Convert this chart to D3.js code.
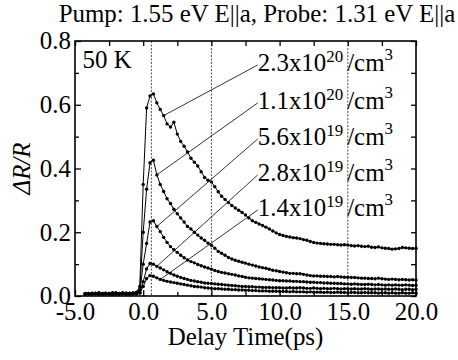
<!DOCTYPE html>
<html>
<head>
<meta charset="utf-8">
<script src="https://cdn.jsdelivr.net/npm/d3@7"></script>
</head>
<body style="margin:0">
<script>
// delay time (ps)
const delays = [
  -4.25, -4, -3.75, -3.5, -3.25, -3, -2.75, -2.5, -2.25, -2, -1.75, -1.5, -1.25, -1, -0.75, -0.5, -0.25,
  0, 0.25, 0.5, 0.75, 1, 1.25, 1.5, 1.75, 2, 2.25,
  2.5, 2.75, 3, 3.25, 3.5, 3.75, 4, 4.25, 4.5, 4.75,
  5, 5.25, 5.5, 5.75, 6, 6.25, 6.5, 6.75, 7, 7.25,
  7.5, 7.75, 8, 8.25, 8.5, 8.75, 9, 9.25, 9.5, 9.75,
  10, 10.25, 10.5, 10.75, 11, 11.25, 11.5, 11.75, 12, 12.25,
  12.5, 12.75, 13, 13.25, 13.5, 13.75, 14, 14.25, 14.5, 14.75,
  15, 15.25, 15.5, 15.75, 16, 16.25, 16.5, 16.75, 17, 17.25,
  17.5, 17.75, 18, 18.25, 18.5, 18.75, 19, 19.25, 19.5, 19.75,
  20
];

// dR/R for each excitation density
const s23e20 = [
  0.008, 0.007, 0.009, 0.008, 0.010, 0.007, 0.009, 0.008, 0.010, 0.009, 0.008, 0.010, 0.009, 0.008, 0.010, 0.012, 0.030,
  0.350, 0.590, 0.628, 0.634, 0.606, 0.585, 0.566, 0.540, 0.530, 0.545,
  0.508, 0.485, 0.470, 0.452, 0.432, 0.420, 0.408, 0.390, 0.372, 0.363,
  0.358, 0.343, 0.327, 0.313, 0.303, 0.293, 0.284, 0.276, 0.269, 0.262,
  0.254, 0.245, 0.236, 0.231, 0.226, 0.221, 0.216, 0.210, 0.204, 0.198,
  0.193, 0.190, 0.187, 0.185, 0.183, 0.182, 0.180, 0.177, 0.175, 0.171,
  0.168, 0.166, 0.165, 0.164, 0.163, 0.162, 0.162, 0.161, 0.160, 0.161,
  0.160, 0.158, 0.157, 0.158, 0.156, 0.155, 0.156, 0.153, 0.152, 0.154,
  0.151, 0.150, 0.149, 0.147, 0.148, 0.149, 0.152, 0.151, 0.150, 0.149,
  0.150
];
const s11e20 = [
  0.007, 0.008, 0.006, 0.009, 0.007, 0.008, 0.009, 0.007, 0.008, 0.010, 0.007, 0.009, 0.008, 0.009, 0.008, 0.010, 0.018,
  0.200, 0.335, 0.418, 0.426, 0.380, 0.350, 0.328, 0.305, 0.290, 0.272,
  0.258, 0.245, 0.232, 0.218, 0.210, 0.200, 0.191, 0.182, 0.175, 0.166,
  0.159, 0.150, 0.140, 0.134, 0.128, 0.121, 0.116, 0.112, 0.109, 0.106,
  0.103, 0.100, 0.097, 0.094, 0.091, 0.089, 0.087, 0.084, 0.081, 0.079,
  0.077, 0.075, 0.073, 0.071, 0.071, 0.070, 0.070, 0.068, 0.066, 0.064,
  0.063, 0.063, 0.062, 0.062, 0.061, 0.061, 0.060, 0.061, 0.060, 0.059,
  0.059, 0.058, 0.058, 0.057, 0.056, 0.056, 0.055, 0.055, 0.054, 0.056,
  0.054, 0.053, 0.052, 0.053, 0.052, 0.051, 0.052, 0.051, 0.050, 0.051,
  0.050
];
const s56e19 = [
  0.006, 0.008, 0.007, 0.008, 0.009, 0.006, 0.008, 0.007, 0.009, 0.008, 0.007, 0.008, 0.009, 0.007, 0.008, 0.009, 0.012,
  0.100, 0.165, 0.232, 0.236, 0.218, 0.202, 0.184, 0.168, 0.155, 0.145,
  0.137, 0.128, 0.120, 0.113, 0.108, 0.104, 0.099, 0.095, 0.091, 0.088,
  0.084, 0.080, 0.077, 0.074, 0.072, 0.070, 0.068, 0.066, 0.063, 0.061,
  0.059, 0.057, 0.056, 0.055, 0.054, 0.053, 0.052, 0.051, 0.050, 0.049,
  0.048, 0.048, 0.047, 0.047, 0.046, 0.046, 0.045, 0.045, 0.044, 0.043,
  0.043, 0.042, 0.042, 0.041, 0.041, 0.040, 0.040, 0.039, 0.039, 0.038,
  0.038, 0.037, 0.038, 0.037, 0.036, 0.036, 0.037, 0.036, 0.035, 0.036,
  0.035, 0.034, 0.035, 0.034, 0.035, 0.034, 0.034, 0.035, 0.034, 0.033,
  0.034
];
const s28e19 = [
  0.007, 0.006, 0.008, 0.007, 0.006, 0.008, 0.007, 0.008, 0.006, 0.007, 0.008, 0.007, 0.006, 0.008, 0.007, 0.008, 0.010,
  0.045, 0.085, 0.102, 0.100, 0.093, 0.088, 0.082, 0.076, 0.071, 0.066,
  0.062, 0.058, 0.055, 0.052, 0.049, 0.047, 0.045, 0.043, 0.041, 0.040,
  0.039, 0.038, 0.037, 0.036, 0.035, 0.034, 0.033, 0.032, 0.031, 0.030,
  0.030, 0.029, 0.029, 0.028, 0.028, 0.027, 0.027, 0.027, 0.026, 0.026,
  0.026, 0.025, 0.025, 0.026, 0.025, 0.025, 0.026, 0.025, 0.024, 0.024,
  0.025, 0.024, 0.023, 0.024, 0.023, 0.023, 0.024, 0.023, 0.022, 0.023,
  0.023, 0.022, 0.023, 0.022, 0.022, 0.023, 0.022, 0.021, 0.022, 0.022,
  0.021, 0.022, 0.021, 0.021, 0.022, 0.021, 0.020, 0.021, 0.021, 0.020,
  0.021
];
const s14e19 = [
  0.005, 0.006, 0.005, 0.007, 0.006, 0.005, 0.006, 0.007, 0.005, 0.006, 0.005, 0.007, 0.006, 0.005, 0.006, 0.007, 0.009,
  0.030, 0.055, 0.064, 0.062, 0.057, 0.052, 0.049, 0.046, 0.044, 0.042,
  0.040, 0.038, 0.036, 0.034, 0.032, 0.030, 0.029, 0.028, 0.026, 0.025,
  0.024, 0.023, 0.023, 0.022, 0.021, 0.021, 0.020, 0.020, 0.019, 0.019,
  0.018, 0.018, 0.017, 0.017, 0.016, 0.016, 0.016, 0.015, 0.015, 0.015,
  0.014, 0.014, 0.014, 0.013, 0.014, 0.013, 0.013, 0.013, 0.012, 0.013,
  0.012, 0.012, 0.012, 0.011, 0.012, 0.011, 0.011, 0.012, 0.011, 0.011,
  0.010, 0.011, 0.011, 0.010, 0.010, 0.011, 0.010, 0.010, 0.010, 0.009,
  0.010, 0.010, 0.009, 0.010, 0.009, 0.009, 0.010, 0.009, 0.009, 0.010,
  0.009
];

const series = [s23e20, s11e20, s56e19, s28e19, s14e19];
const labelMantissa = ["2.3", "1.1", "5.6", "2.8", "1.4"];
const labelExponent = ["20", "20", "19", "19", "19"];
const leaderDelay = [1.5, 1, 1, 1, 1.25];   // where each leader line touches its curve
const labelLevel = [0.706, 0.587, 0.474, 0.361, 0.251];
const labelDelay = 8.4;
const markerDelays = [0.6, 5, 15];          // dashed guide lines

const xTicks = [-5, 0, 5, 10, 15, 20];
const xMinor = [-2.5, 2.5, 7.5, 12.5, 17.5];
const yTicks = [0, 0.2, 0.4, 0.6, 0.8];
const yMinor = [0.1, 0.3, 0.5, 0.7];

const titleText = "Pump: 1.55 eV E||a, Probe: 1.31 eV E||a";

const width = 458, height = 360;
const pLeft = 75, pRight = 416, pTop = 41, pBottom = 296;

const svg = d3.select("body").append("svg")
    .attr("width", width)
    .attr("height", height);

// pick a serif face that really renders here (fallback to sans has shown up)
const probe = svg.append("text").attr("font-size", 25).attr("x", -2000).attr("y", -2000).text(titleText);
const widthIn = f => probe.attr("font-family", f).node().getComputedTextLength();
const sansWidths = [widthIn("Liberation Sans"), widthIn("DejaVu Sans"), widthIn("sans-serif")];
const candidates = ["Liberation Serif", "Times New Roman", "Tinos", "Noto Serif", "DejaVu Serif", "serif"];
let FONT = "serif", titleW = 399;
for (const c of candidates) {
  const w = widthIn(c);
  const timesLike = c === "Liberation Serif" || c === "Times New Roman" || c === "Tinos";
  const ok = timesLike ? Math.abs(w - 399) < 8 : sansWidths.every(s => Math.abs(w - s) > 6);
  if (ok) { FONT = c; titleW = w; break; }
}
probe.remove();
const k = 397 / titleW;          // scale text so the title spans as in the reference
const FS = 25 * k, SUP = 17 * k;

const x = d3.scaleLinear().domain([-5, 20]).range([pLeft, pRight]);
const y = d3.scaleLinear().domain([0, 0.8]).range([pBottom, pTop]);

// dashed guide lines
svg.selectAll(".marker")
    .data(markerDelays)
    .enter().append("line")
    .attr("x1", d => x(d)).attr("x2", d => x(d))
    .attr("y1", pTop).attr("y2", pBottom)
    .attr("stroke", "#222")
    .attr("stroke-width", 0.8)
    .attr("stroke-dasharray", "2,1.5");

// curves
const line = d3.line()
    .x((d, i) => x(delays[i]))
    .y(d => y(d));

series.forEach(vals => {
  svg.append("path")
      .datum(vals)
      .attr("d", line)
      .attr("fill", "none")
      .attr("stroke", "#000")
      .attr("stroke-width", 1);
  svg.append("g").selectAll("circle")
      .data(vals)
      .enter().append("circle")
      .attr("cx", (d, i) => x(delays[i]))
      .attr("cy", d => y(d))
      .attr("r", 1.7)
      .attr("fill", "#000");
});

// leader lines + labels
series.forEach((vals, i) => {
  const idx = delays.indexOf(leaderDelay[i]);
  svg.append("line")
      .attr("x1", x(labelDelay))
      .attr("y1", y(labelLevel[i]) - 6)
      .attr("x2", x(delays[idx]))
      .attr("y2", y(vals[idx]))
      .attr("stroke", "#000")
      .attr("stroke-width", 0.8);

  const t = svg.append("text")
      .attr("x", x(labelDelay))
      .attr("y", y(labelLevel[i]))
      .attr("font-family", FONT)
      .attr("font-size", FS);
  t.append("tspan").text(labelMantissa[i] + "x10");
  t.append("tspan").attr("dy", -9).attr("font-size", SUP).text(labelExponent[i]);
  t.append("tspan").attr("dy", 9).attr("dx", 4).text("/cm");
  t.append("tspan").attr("dy", -11).attr("font-size", SUP).text("3");
});

// axes, ticks pointing inward on all four sides
const fmt = d => d3.format(".1f")(d).replace("\u2212", "-");

svg.append("g")
    .attr("transform", `translate(0,${pBottom})`)
    .call(d3.axisBottom(x).tickValues(xTicks).tickFormat(fmt).tickSizeInner(-6).tickSizeOuter(0).tickPadding(6));
svg.append("g")
    .attr("transform", `translate(0,${pBottom})`)
    .call(d3.axisBottom(x).tickValues(xMinor).tickFormat("").tickSizeInner(-4).tickSizeOuter(0));
svg.append("g")
    .attr("transform", `translate(0,${pTop})`)
    .call(d3.axisTop(x).tickValues(xTicks.concat(xMinor)).tickFormat("").tickSizeInner(-5).tickSizeOuter(0));

svg.append("g")
    .attr("transform", `translate(${pLeft},0)`)
    .call(d3.axisLeft(y).tickValues(yTicks).tickFormat(fmt).tickSizeInner(-6).tickSizeOuter(0).tickPadding(4));
svg.append("g")
    .attr("transform", `translate(${pLeft},0)`)
    .call(d3.axisLeft(y).tickValues(yMinor).tickFormat("").tickSizeInner(-4).tickSizeOuter(0));
svg.append("g")
    .attr("transform", `translate(${pRight},0)`)
    .call(d3.axisRight(y).tickValues(yTicks.concat(yMinor)).tickFormat("").tickSizeInner(-5).tickSizeOuter(0));

svg.selectAll("g").attr("font-family", FONT).attr("font-size", FS);
svg.selectAll(".domain").remove();
svg.selectAll(".tick line").attr("stroke", "#000").attr("stroke-width", 1.3);
svg.selectAll(".tick text")
    .attr("font-family", FONT)
    .attr("font-size", FS)
    .attr("fill", "#000");

svg.append("rect")
    .attr("x", pLeft).attr("y", pTop)
    .attr("width", pRight - pLeft).attr("height", pBottom - pTop)
    .attr("fill", "none")
    .attr("stroke", "#000")
    .attr("stroke-width", 1.6);

// titles
svg.append("text")
    .attr("x", 257).attr("y", 22)
    .attr("text-anchor", "middle")
    .attr("font-family", FONT)
    .attr("font-size", FS)
    .text(titleText);

svg.append("text")
    .attr("x", x(-4.45)).attr("y", 68)
    .attr("font-family", FONT)
    .attr("font-size", FS)
    .text("50 K");

svg.append("text")
    .attr("x", (pLeft + pRight) / 2).attr("y", 345)
    .attr("text-anchor", "middle")
    .attr("font-family", FONT)
    .attr("font-size", FS)
    .text("Delay Time(ps)");

svg.append("text")
    .attr("transform", `translate(30,${(pTop + pBottom) / 2}) rotate(-90)`)
    .attr("text-anchor", "middle")
    .attr("font-family", FONT)
    .attr("font-size", FS)
    .attr("font-style", "italic")
    .text("ΔR/R");
</script>
</body>
</html>
